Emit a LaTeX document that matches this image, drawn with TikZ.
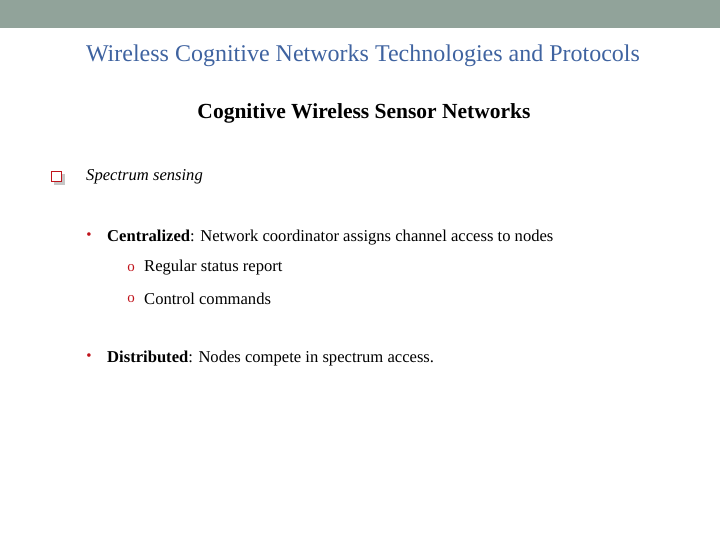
\documentclass[tikz,border=0pt]{standalone}
\usepackage{fontspec}
\setmainfont{Liberation Serif}
\definecolor{bar}{HTML}{91A39A}
\definecolor{ttl}{HTML}{3F63A0}
\definecolor{bred}{HTML}{C0141C}
\tikzset{txt/.style={anchor=west,inner sep=0pt,font=\fontsize{16.6}{18}\selectfont},
 bul/.style={anchor=center,inner sep=0pt,text=bred,font=\fontsize{15}{16}\selectfont}}
\begin{document}
\begin{tikzpicture}[x=1pt,y=-1pt]
\useasboundingbox (0,0) rectangle (720,540);
\fill[bar] (0,0) rectangle (720,28);
\node[inner sep=0pt,text=ttl,font=\fontsize{24}{26}\selectfont] (title) at (363,56) {Wireless Cognitive Networks Technologies and Protocols};
\node[inner sep=0pt,font=\bfseries\fontsize{21.5}{23}\selectfont] (sub) at (364,113) {Cognitive Wireless Sensor Networks};
\fill[gray!45] (54,174) rectangle (65,185);
\draw[bred,line width=1.5pt,fill=white] (51.5,171.5) rectangle (61.5,181.5);
\node[txt,font=\itshape\fontsize{16.6}{18}\selectfont] (s1) at (86,177) {Spectrum sensing};
\node[bul] (b1) at (89,236) {\textbullet};
\node[txt] (c1) at (107,238) {\textbf{Centralized}: Network coordinator assigns channel access to nodes};
\node[bul] (o1) at (131,268) {o};
\node[txt] (c2) at (144,268) {Regular status report};
\node[bul] (o2) at (131,299) {o};
\node[txt] (c3) at (144,299) {Control commands};
\node[bul] (b2) at (89,357) {\textbullet};
\node[txt] (d1) at (107,359) {\textbf{Distributed}: Nodes compete in spectrum access.};
\end{tikzpicture}
\end{document}
